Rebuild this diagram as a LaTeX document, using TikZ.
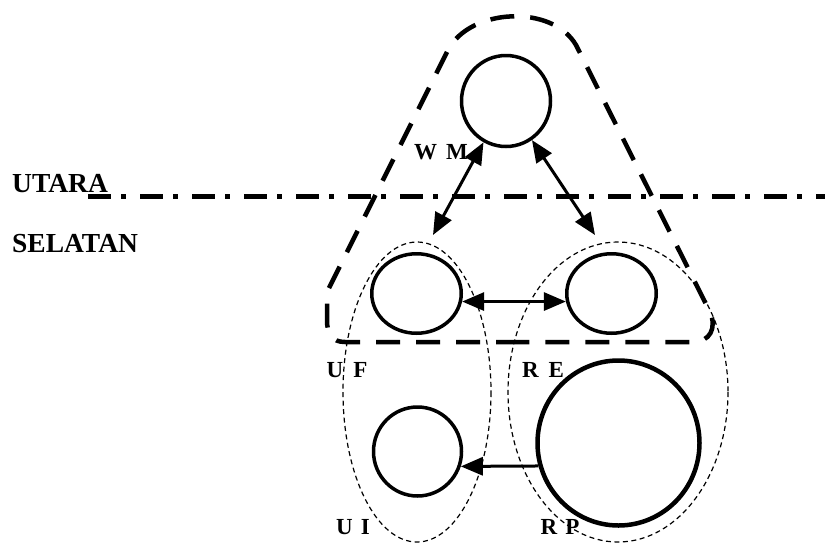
\documentclass[tikz,border=0pt]{standalone}
\usepackage{fontspec}
\setmainfont{Liberation Serif}
\usetikzlibrary{arrows.meta,shapes.geometric}
\begin{document}
\begin{tikzpicture}[x=1pt,y=-1pt,
  unit/.style={draw,ellipse,line width=3.5pt,inner sep=0pt},
  lbl/.style={font=\bfseries\fontsize{23}{23}\selectfont,inner sep=0pt},
  side/.style={font=\bfseries\fontsize{27.5}{27.5}\selectfont,inner sep=0pt,anchor=west},
  link/.style={line width=3pt,-{Triangle[length=22pt,width=18pt]}},
  dlink/.style={line width=3pt,{Triangle[length=22pt,width=18pt]}-{Triangle[length=22pt,width=18pt]}},
  group/.style={dash pattern=on 5pt off 3.5pt,line width=1.2pt},
  hull/.style={dash pattern=on 24pt off 16pt,line width=4.5pt},
  border/.style={dash pattern=on 23pt off 10pt on 5pt off 14pt,line width=5pt}]
\useasboundingbox (0,0) rectangle (825,544);

% group outlines
\draw[group] (417,392) ellipse [x radius=74, y radius=150];
\draw[group] (618,392) ellipse [x radius=110, y radius=150];
\draw[hull] (520,342) -- (345,342) .. controls (332,342) and (327,334) .. (327,320)
  -- (327,292) -- (448,50) .. controls (470,8) and (552,4) .. (576,45)
  -- (710,312) .. controls (717,328) and (710,342) .. (693,342) -- cycle;

% north/south border
\draw[border] (88,196) -- (825,196);
\node[side] (utara) at (12,184) {UTARA};
\node[side] (selatan) at (12,244) {SELATAN};

% units
\node[unit,minimum width=89pt,minimum height=91pt] (wm) at (506,101) {};
\node[unit,minimum width=89.5pt,minimum height=79.5pt] (uf) at (416.5,293.5) {};
\node[unit,minimum width=89.5pt,minimum height=79.5pt] (re) at (611.5,293.5) {};
\node[unit,minimum width=88pt,minimum height=89pt] (ui) at (417.5,451.5) {};
\node[unit,line width=4.5pt,minimum width=162pt,minimum height=165pt] (rp) at (618.5,443) {};

% labels
\node[lbl] (wml) at (441,152) {W\hspace{9pt}M};
\node[lbl] (ufl) at (347,370) {U\hspace{10pt}F};
\node[lbl] (rel) at (543,370) {R\hspace{10pt}E};
\node[lbl] (uil) at (353,527) {U\hspace{8pt}I};
\node[lbl] (rpl) at (560,527) {R\hspace{8pt}P};

% connectors
\coordinate (uftip) at (433,235);
\coordinate (retip) at (595,235);
\draw[dlink] (wm) -- (uftip);
\draw[dlink] (wm) -- (retip);
\draw[dlink] (uf.-10) -- (re.190);
\draw[link] (rp.196.6) -- (ui.-19.5);
\end{tikzpicture}
\end{document}
